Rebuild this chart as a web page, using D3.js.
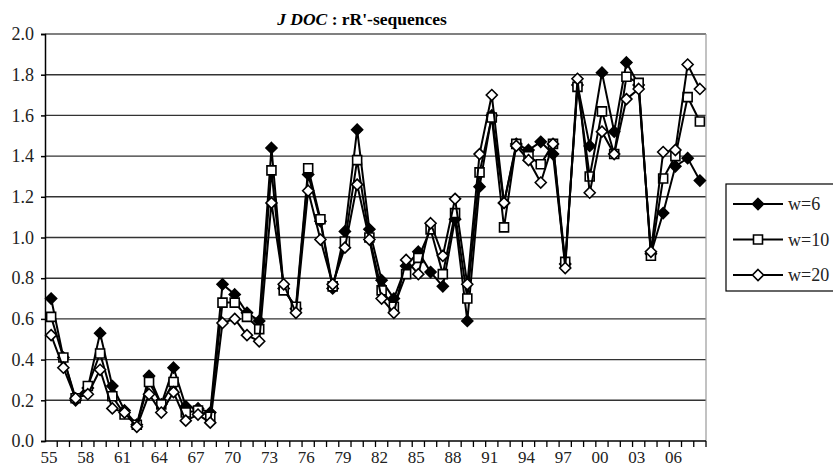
<!DOCTYPE html>
<html>
<head>
<meta charset="utf-8">
<script src="https://cdn.jsdelivr.net/npm/d3@7"></script>
<style>
  body { margin: 0; background: #fff; }
  svg text { font-family: "Liberation Serif", "DejaVu Serif", serif; }
</style>
</head>
<body>
<svg id="chart" width="833" height="468"></svg>
<script>
// years 1955..2008
const years = d3.range(1955, 2009);

const w6 = [0.70, 0.41, 0.20, 0.26, 0.53, 0.27, 0.15, 0.08, 0.32, 0.18,
            0.36, 0.17, 0.16, 0.14, 0.77, 0.72, 0.63, 0.59, 1.44, 0.75,
            0.65, 1.31, 1.08, 0.75, 1.03, 1.53, 1.04, 0.79, 0.70, 0.86,
            0.93, 0.83, 0.76, 1.09, 0.59, 1.25, 1.60, 1.17, 1.46, 1.43,
            1.47, 1.41, 0.87, 1.75, 1.45, 1.81, 1.52, 1.86, 1.75, 0.92,
            1.12, 1.35, 1.39, 1.28];
const w10 = [0.61, 0.41, 0.21, 0.27, 0.43, 0.22, 0.13, 0.08, 0.29, 0.18,
             0.29, 0.14, 0.15, 0.12, 0.68, 0.68, 0.61, 0.55, 1.33, 0.74,
             0.66, 1.34, 1.09, 0.76, 0.98, 1.38, 1.00, 0.74, 0.66, 0.82,
             0.90, 1.04, 0.82, 1.12, 0.70, 1.32, 1.59, 1.05, 1.46, 1.40,
             1.36, 1.46, 0.88, 1.74, 1.30, 1.62, 1.41, 1.79, 1.76, 0.91,
             1.29, 1.40, 1.69, 1.57];
const w20 = [0.52, 0.36, 0.21, 0.23, 0.35, 0.16, 0.14, 0.07, 0.23, 0.14,
             0.24, 0.10, 0.13, 0.09, 0.58, 0.60, 0.52, 0.49, 1.17, 0.77,
             0.63, 1.23, 0.99, 0.77, 0.95, 1.26, 0.99, 0.70, 0.63, 0.89,
             0.82, 1.07, 0.91, 1.19, 0.77, 1.41, 1.70, 1.17, 1.45, 1.38,
             1.27, 1.46, 0.85, 1.78, 1.22, 1.52, 1.41, 1.68, 1.73, 0.93,
             1.42, 1.43, 1.85, 1.73];

const yTicks = [0, 0.2, 0.4, 0.6, 0.8, 1.0, 1.2, 1.4, 1.6, 1.8, 2.0];
const seriesNames = ["w=6", "w=10", "w=20"];

const svg = d3.select("#chart");
const plotL = 45, plotR = 706, plotT = 34, plotB = 441;
const serif = "'Liberation Serif', 'DejaVu Serif', serif";

const x = d3.scaleBand().domain(years).range([plotL, plotR]).padding(0);
const y = d3.scaleLinear().domain([0, 2]).range([plotB, plotT]);

// gridlines
svg.append("g")
  .selectAll("line")
  .data(yTicks.filter(d => d > 0))
  .join("line")
  .attr("x1", plotL).attr("x2", plotR)
  .attr("y1", d => y(d)).attr("y2", d => y(d))
  .attr("stroke", "#333").attr("stroke-width", 1.4);

// plot border (top/right light)
svg.append("line").attr("x1", plotL).attr("x2", plotR).attr("y1", plotT).attr("y2", plotT)
  .attr("stroke", "#999").attr("stroke-width", 1.2);
svg.append("line").attr("x1", plotR).attr("x2", plotR).attr("y1", plotT).attr("y2", plotB)
  .attr("stroke", "#999").attr("stroke-width", 1.2);

// y axis
const yAxis = d3.axisLeft(y).tickValues(yTicks).tickFormat(d3.format(".1f")).tickSize(4).tickPadding(7);
const gy = svg.append("g").attr("transform", `translate(${plotL},0)`).call(yAxis)
  .attr("font-family", serif).attr("font-size", 18);
gy.select(".domain").attr("stroke", "#000").attr("stroke-width", 1.5);
gy.selectAll(".tick line").attr("stroke", "#000").attr("stroke-width", 1.5);
gy.selectAll("text").attr("fill", "#222");

// x axis: ticks at category boundaries
const gx = svg.append("g").attr("font-family", serif);
gx.append("line").attr("x1", plotL).attr("x2", plotR).attr("y1", plotB).attr("y2", plotB)
  .attr("stroke", "#000").attr("stroke-width", 1.5);
gx.selectAll(".xt")
  .data(years.slice(1).concat([null]))
  .join("line")
  .attr("class", "xt")
  .attr("x1", d => d === null ? plotR : x(d))
  .attr("x2", d => d === null ? plotR : x(d))
  .attr("y1", plotB).attr("y2", plotB + 6)
  .attr("stroke", "#000").attr("stroke-width", 1.3);
gx.selectAll("text")
  .data(years.filter((d, i) => i % 3 === 0))
  .join("text")
  .attr("x", d => x(d) + x.bandwidth() / 2 - 2)
  .attr("y", 463)
  .attr("text-anchor", "middle")
  .attr("font-size", 17)
  .attr("fill", "#222")
  .text(d => String(d % 100).padStart(2, "0"));

// title
const title = svg.append("text")
  .attr("x", 362).attr("y", 25)
  .attr("text-anchor", "middle")
  .attr("font-family", serif)
  .attr("font-size", 17.5)
  .attr("font-weight", "bold");
title.append("tspan").attr("font-style", "italic").text("J DOC");
title.append("tspan").text(" : rR'-sequences");

// series
const cx = d => x(d) + x.bandwidth() / 2;
const line = d3.line().x((d, i) => cx(years[i])).y(d => y(d));

const diamond = s => `M0,${-s}L${s},0L0,${s}L${-s},0Z`;
const square = s => `M${-s},${-s}H${s}V${s}H${-s}Z`;

const series = [
  { name: seriesNames[0], values: w6, shape: diamond(5.5), fill: "#000" },
  { name: seriesNames[1], values: w10, shape: square(4.5), fill: "#fff" },
  { name: seriesNames[2], values: w20, shape: diamond(5.5), fill: "#fff" }
];

series.forEach(s => {
  const g = svg.append("g");
  g.append("path").datum(s.values)
    .attr("d", line)
    .attr("fill", "none").attr("stroke", "#000").attr("stroke-width", 2);
  g.selectAll("path.m")
    .data(s.values)
    .join("path")
    .attr("class", "m")
    .attr("d", s.shape)
    .attr("transform", (d, i) => `translate(${cx(years[i])},${y(d)})`)
    .attr("fill", s.fill).attr("stroke", "#000").attr("stroke-width", 1.6);
});

// legend
const lg = svg.append("g").attr("font-family", serif);
lg.append("rect").attr("x", 726).attr("y", 184).attr("width", 110).attr("height", 107)
  .attr("fill", "#fff").attr("stroke", "#000").attr("stroke-width", 1.2);
series.forEach((s, i) => {
  const ly = 204 + i * 35.5;
  lg.append("line").attr("x1", 733).attr("x2", 783).attr("y1", ly).attr("y2", ly)
    .attr("stroke", "#000").attr("stroke-width", 2);
  lg.append("path").attr("d", s.shape).attr("transform", `translate(758,${ly})`)
    .attr("fill", s.fill).attr("stroke", "#000").attr("stroke-width", 1.6);
  lg.append("text").attr("x", 788).attr("y", ly + 6).attr("font-size", 18).attr("fill", "#222")
    .text(s.name);
});
</script>
</body>
</html>
